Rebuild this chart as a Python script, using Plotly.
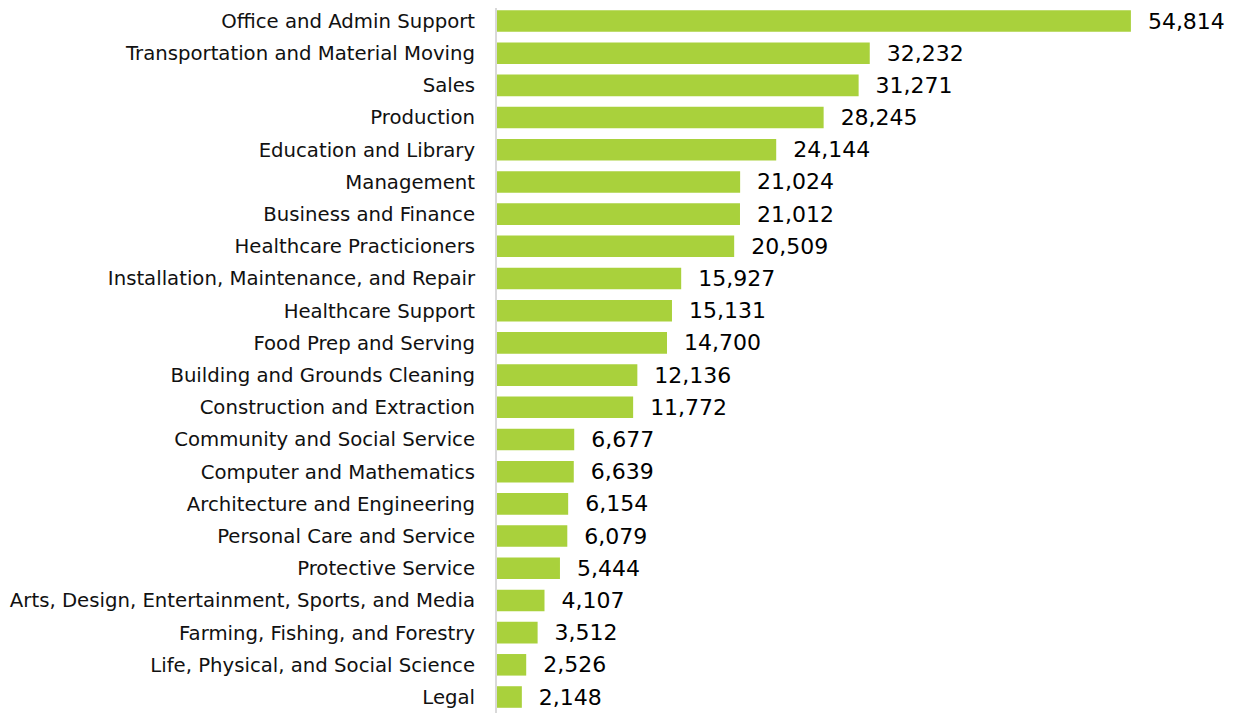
import plotly.graph_objects as go

categories = [
    "Office and Admin Support", "Transportation and Material Moving", "Sales", "Production",
    "Education and Library", "Management", "Business and Finance", "Healthcare Practicioners",
    "Installation, Maintenance, and Repair", "Healthcare Support", "Food Prep and Serving",
    "Building and Grounds Cleaning", "Construction and Extraction", "Community and Social Service",
    "Computer and Mathematics", "Architecture and Engineering", "Personal Care and Service",
    "Protective Service", "Arts, Design, Entertainment, Sports, and Media",
    "Farming, Fishing, and Forestry", "Life, Physical, and Social Science", "Legal",
]
values = [54814, 32232, 31271, 28245, 24144, 21024, 21012, 20509, 15927, 15131, 14700,
          12136, 11772, 6677, 6639, 6154, 6079, 5444, 4107, 3512, 2526, 2148]

fig = go.Figure(go.Bar(
    x=values, y=categories, orientation="h",
    marker=dict(color="#A9D13C", line=dict(width=0)),
    texttemplate="\u00a0\u00a0%{x:,}", textposition="outside", cliponaxis=False,
    constraintext="none",
    textfont=dict(size=22, color="#000000", family="DejaVu Sans"),
))
fig.update_layout(
    width=1232, height=705,
    margin=dict(l=489, r=26, t=0, b=0, autoexpand=False),
    plot_bgcolor="white", paper_bgcolor="white",
    bargap=0.33, showlegend=False,
    font=dict(family="DejaVu Sans", size=19.7, color="#111111"),
)
fig.update_xaxes(range=[0, 62000], visible=False, showgrid=False, zeroline=False)
fig.update_yaxes(range=[21.497, -0.404], showline=True, linecolor="#d9d9d9", linewidth=2,
                 ticks="", showgrid=False, ticklabelstandoff=16, automargin=False,
                 tickfont=dict(size=19.7, family="DejaVu Sans", color="#111111"))
fig.write_html("out.html")
